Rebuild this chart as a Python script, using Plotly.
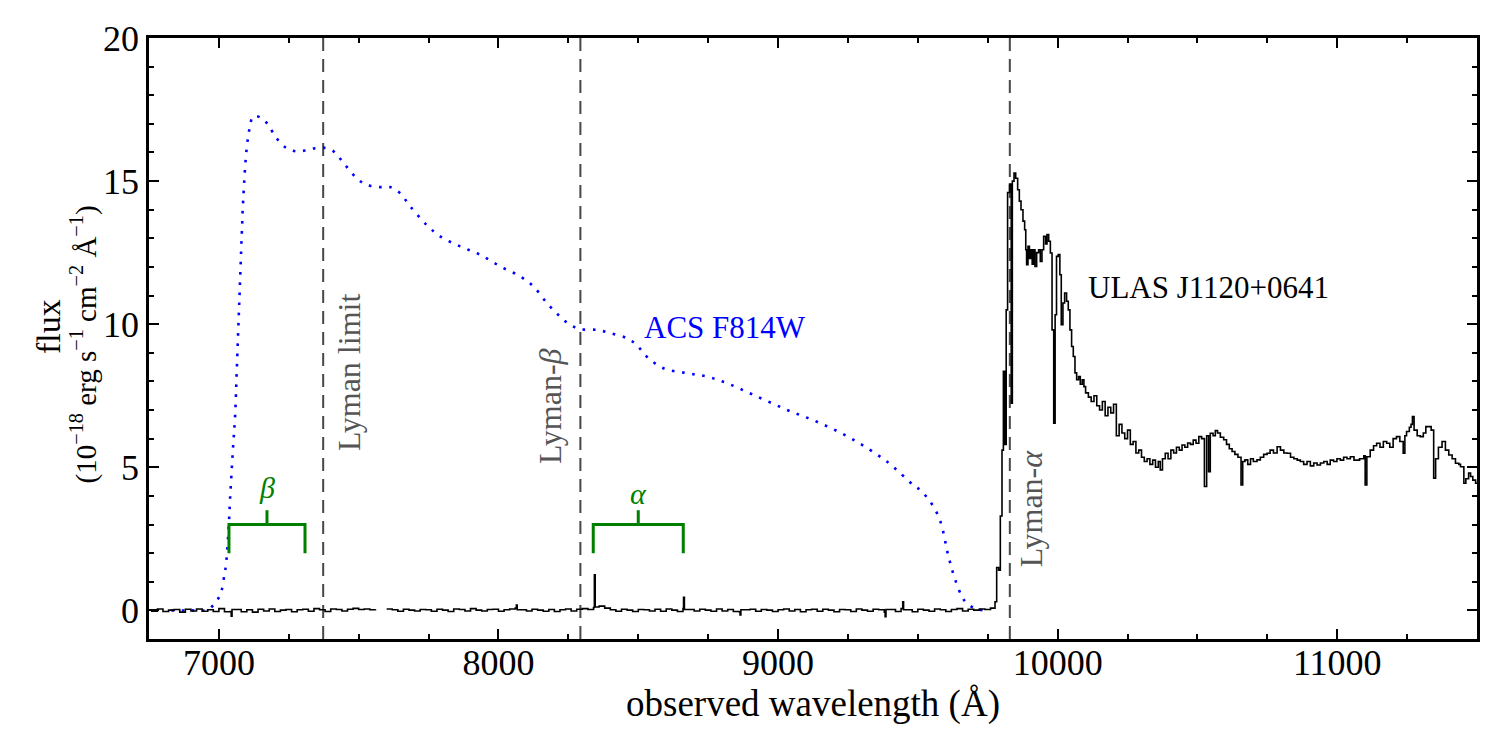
import numpy as np
import plotly.graph_objects as go

# ---------------- data ----------------
# ACS F814W throughput curve (scaled)
filter_wl = [6830, 6900, 6960, 6983, 6998, 7010, 7020, 7025, 7034, 7040, 7050, 7058, 7064,
             7073, 7082, 7087, 7099, 7111, 7123, 7153, 7176, 7206, 7242, 7278, 7314, 7344,
             7374, 7410, 7446, 7493, 7528, 7576, 7612, 7648, 7684, 7743, 7791, 7863, 7934,
             8006, 8077, 8125, 8173, 8220, 8256, 8292, 8352, 8399, 8459, 8494, 8530, 8590,
             8673, 8745, 8817, 8912, 9031, 9151, 9270, 9389, 9484, 9509, 9544, 9574, 9592,
             9604, 9616, 9634, 9658, 9675, 9705, 9735]
filter_flux = [0.0, 0.0, 0.02, 0.22, 0.42, 0.71, 1.27, 1.56, 2.75, 3.9, 5.6, 6.8, 8.4,
               10.8, 13.18, 14.35, 16.1, 16.9, 17.26, 17.2, 16.97, 16.5, 16.15, 16.04, 16.08, 16.15,
               16.17, 16.04, 15.63, 15.1, 14.87, 14.79, 14.79, 14.58, 14.12, 13.47, 13.07, 12.72, 12.43,
               12.02, 11.67, 11.32, 10.74, 10.27, 9.98, 9.83, 9.8, 9.69, 9.51, 9.28, 8.87, 8.46,
               8.29, 8.17, 7.94, 7.53, 7.01, 6.54, 5.96, 5.2, 4.38, 4.2, 3.8, 3.28, 2.7,
               2.11, 1.65, 1.06, 0.48, 0.25, 0.07, 0.0]

# Spectrum blueward of the break (20 A sampling starting at 6740 A)
blue_start, blue_step = 6740, 20
blue_flux = [
    0.02, -0.03, 0.05, -0.04, 0.01, 0.03, -0.06, 0.04, -0.02, 0.05,
    -0.03, 0.02, -0.04, 0.06, -0.05, -0.04, 0.03, -0.05, 0.02, -0.06,
    0.04, -0.02, 0.05, -0.04, 0.01, 0.03, -0.05, 0.02, 0.04, -0.03,
    0.06, 0.02, -0.04, 0.05, 0.03, -0.02, 0.04, 0.07, 0.03, 0.05,
    0.02, 0.04, None, 0.05, 0.02, -0.03, 0.04, 0.01, -0.02, 0.03,
    0.02, -0.03, 0.04, 0.01, -0.04, 0.05, 0.03, -0.02, 0.06, 0.01,
    -0.02, 0.03, 0.04, -0.03, 0.02, 0.05, 0.08, 0.02, -0.02, 0.04,
    0.01, -0.03, 0.03, -0.04, 0.02, 0.05, -0.02, 0.04, 0.06, 0.03,
    0.10, 0.15, 0.08, 0.02, -0.03, 0.04, 0.01, -0.04, 0.03, 0.02,
    -0.02, 0.04, -0.03, 0.05, 0.01, -0.04, 0.06, 0.03, -0.02, 0.04,
    0.01, -0.03, 0.05, -0.02, 0.03, -0.04, -0.05, 0.02, 0.04, -0.03,
    0.03, 0.01, -0.04, 0.02, 0.05, -0.02, 0.03, -0.05, 0.02, 0.04,
    -0.03, 0.04, 0.01, -0.05, 0.03, 0.02, -0.04, 0.05, 0.01, -0.03,
    0.04, 0.02, -0.06, 0.03, -0.04, 0.06, 0.02, -0.05, 0.04, 0.01,
    -0.03, 0.05, 0.02, -0.04, 0.03, 0.06, -0.02, 0.04, 0.01, 0.05,
    0.03, 0.08]

# Narrow spikes / dips on the blue side (wavelength, flux, back-to-continuum flux)
spike_wl = [7044, 8064, 8343, 8662, 8864, 9383, 9446]
spike_flux = [-0.2, 0.19, 1.24, 0.46, -0.16, -0.22, 0.30]
spike_after = [0.03, 0.02, 0.12, 0.03, 0.02, 0.03, 0.02]

# Spectrum redward of the break
red_wl = [9776, 9782, 9789, 9795, 9801, 9806, 9811, 9816, 9821, 9828, 9834, 9838, 9844, 9850,
          9857, 9863, 9869, 9876, 9882, 9886, 9889, 9894, 9899, 9904, 9909, 9914, 9919, 9925,
          9932, 9938, 9944, 9950, 9957, 9962, 9968, 9974, 9980, 9986, 9991, 9996, 10002, 10008,
          10013, 10019, 10025, 10032, 10038, 10044, 10050, 10056, 10062, 10068, 10075, 10081,
          10088, 10094, 10100, 10110, 10120, 10130, 10140, 10150, 10160, 10170, 10180, 10190,
          10200, 10210, 10220, 10230, 10240, 10250, 10260, 10270, 10280, 10290, 10300, 10310,
          10320, 10330, 10340, 10350, 10360, 10367, 10375, 10385, 10395, 10405, 10415, 10425,
          10435, 10445, 10455, 10465, 10475, 10485, 10495, 10505, 10515, 10525, 10533, 10540,
          10546, 10556, 10564, 10572, 10582, 10594, 10604, 10614, 10624, 10634, 10645, 10656,
          10662, 10670, 10680, 10690, 10700, 10713, 10725, 10737, 10749, 10760, 10772, 10785,
          10797, 10809, 10821, 10833, 10845, 10857, 10868, 10880, 10892, 10904, 10916, 10928,
          10940, 10952, 10964, 10975, 10987, 10999, 11011, 11023, 11035, 11047, 11060, 11080,
          11095, 11100, 11106, 11118, 11130, 11141, 11153, 11165, 11177, 11188, 11200, 11212,
          11224, 11236, 11242, 11248, 11258, 11264, 11269, 11275, 11286, 11297, 11308, 11317,
          11327, 11336, 11345, 11352, 11362, 11375, 11387, 11399, 11411, 11423, 11435, 11441,
          11453, 11460, 11470, 11477, 11485, 11495, 11505]
red_flux = [0.3, 1.5, 1.4, 3.3, 5.6, 8.35, 5.8, 10.5, 14.6, 14.9, 7.24, 15.0, 15.28, 15.1,
            14.7, 14.3, 14.0, 13.6, 13.3, 12.6, 12.08, 12.72, 12.3, 12.6, 12.1, 12.6, 12.02, 12.5,
            12.6, 12.19, 12.6, 13.07, 12.8, 13.13, 12.9, 12.49, 9.8, 6.54, 10.33, 12.37, 12.43, 11.73,
            9.98, 10.74, 11.09, 10.8, 10.5, 9.8, 9.22, 8.87, 8.3, 8.06, 8.17, 7.9,
            8.06, 7.82, 7.6, 7.45, 7.3, 7.5, 7.15, 7.0, 7.3, 6.8, 7.1, 6.9,
            7.2, 6.1, 6.5, 6.2, 6.0, 6.3, 5.8, 5.9, 5.5, 5.6, 5.35, 5.2,
            5.3, 5.1, 5.25, 5.0, 5.2, 4.91, 5.3, 5.49, 5.3, 5.6, 5.5, 5.7,
            5.6, 5.78, 5.7, 5.85, 5.8, 5.95, 5.84, 6.07, 6.0, 4.33, 6.1, 4.85,
            6.19, 6.1, 6.28, 6.2, 6.05, 5.96, 5.8, 5.65, 5.55, 5.45, 5.35, 4.38,
            5.2, 5.26, 5.1, 5.3, 5.2, 5.26, 5.35, 5.45, 5.49, 5.6, 5.5, 5.72,
            5.6, 5.5, 5.49, 5.35, 5.3, 5.25, 5.2, 5.1, 5.2, 5.05, 5.15, 5.08,
            5.15, 5.2, 5.1, 5.25, 5.2, 5.3, 5.25, 5.35, 5.3, 5.37, 5.25, 5.3,
            5.4, 4.38, 5.37, 5.6, 5.75, 5.84, 5.7, 5.9, 5.84, 5.7, 6.0, 6.07,
            5.9, 5.49, 6.1, 6.25, 6.4, 6.5, 6.77, 6.3, 6.1, 6.07, 6.2, 6.42,
            6.42, 6.3, 4.62, 5.3, 5.7, 5.9, 5.6, 5.43, 5.3, 5.14, 5.1, 5.02,
            4.44, 4.6, 4.8, 4.68, 4.55, 4.44, 4.6]

# Lyman series markers (observed wavelengths)
lyman_wl = [7373, 8293, 9829]
lyman_labels = ["Lyman limit", "Lyman-<i>β</i>", "Lyman-<i>α</i>"]
lyman_label_pos = [(7466, 8.3), (8185, 7.15), (9906, 3.58)]

# Forest windows (brackets)
bracket_lo = [7036, 8339]
bracket_hi = [7308, 8661]
bracket_labels = ["<i>β</i>", "<i>α</i>"]
bracket_levels = [2.0, 3.0, 3.5]   # foot, bar, centre tick top
bracket_label_y = [4.3, 4.1]

x_range = [6750, 11500]
y_range = [-1, 20]
x_ticks = [7000, 8000, 9000, 10000, 11000]
y_ticks = [0, 5, 10, 15, 20]

FONT = "Liberation Serif"
GREEN = "#008000"
GRAY = "#474747"

# ---------------- figure ----------------
blue_wl = [blue_start + blue_step * i for i in range(len(blue_flux))]
pts = list(zip(blue_wl, blue_flux))
for w, f, a in zip(spike_wl, spike_flux, spike_after):
    pts.append((w, f))
    pts.append((w + 3, a))
pts.sort(key=lambda p: p[0])
spec_wl = [p[0] for p in pts] + red_wl
spec_flux = [p[1] for p in pts] + red_flux

fig = go.Figure()

fig.add_trace(go.Scatter(x=filter_wl, y=filter_flux, mode="lines",
                         line=dict(color="#0000ff", width=2.6, dash="2.6px,7.6px", shape="spline"),
                         hoverinfo="skip", showlegend=False))

fig.add_trace(go.Scatter(x=spec_wl, y=spec_flux, mode="lines",
                         line=dict(color="black", width=1.6, shape="hv"),
                         connectgaps=False, hoverinfo="skip", showlegend=False))

for wl in lyman_wl:
    fig.add_shape(type="line", x0=wl, x1=wl, y0=0, y1=1, xref="x", yref="paper",
                  line=dict(color=GRAY, width=2, dash="13px,8px"), layer="below")

for lab, (lx, ly) in zip(lyman_labels, lyman_label_pos):
    fig.add_annotation(x=lx, y=ly, text=lab, textangle=-90, showarrow=False,
                       font=dict(family=FONT, size=32, color="#555555"),
                       xanchor="center", yanchor="middle")

for lo, hi, lab, ly in zip(bracket_lo, bracket_hi, bracket_labels, bracket_label_y):
    mid = 0.5 * (lo + hi)
    yf, yb, yt = bracket_levels
    fig.add_trace(go.Scatter(x=[lo, lo, hi, hi, None, mid, mid],
                             y=[yf, yb, yb, yf, None, yb, yt],
                             mode="lines", line=dict(color=GREEN, width=3),
                             hoverinfo="skip", showlegend=False))
    fig.add_annotation(x=mid, y=ly, text=lab, showarrow=False,
                       font=dict(family=FONT, size=30, color=GREEN),
                       xanchor="center", yanchor="middle")

fig.add_annotation(x=8811, y=9.87, text="ACS F814W", showarrow=False,
                   font=dict(family=FONT, size=31, color="#0000ff"),
                   xanchor="center", yanchor="middle")
fig.add_annotation(x=10539, y=11.28, text="ULAS J1120+0641", showarrow=False,
                   font=dict(family=FONT, size=31, color="black"),
                   xanchor="center", yanchor="middle")

# axis titles
fig.add_annotation(x=0.5, y=-0.108, xref="paper", yref="paper",
                   text="observed wavelength (Å)", showarrow=False,
                   font=dict(family=FONT, size=37, color="black"),
                   xanchor="center", yanchor="middle")
fig.add_annotation(x=-0.0757, y=0.52, xref="paper", yref="paper",
                   text="flux", showarrow=False, textangle=-90,
                   font=dict(family=FONT, size=34, color="black"),
                   xanchor="center", yanchor="middle")
fig.add_annotation(x=-0.049, y=0.49, xref="paper", yref="paper",
                   text="(10<sup>−18</sup> erg s<sup>−1</sup> cm<sup>−2</sup> Å<sup>−1</sup>)",
                   showarrow=False, textangle=-90,
                   font=dict(family=FONT, size=29, color="black"),
                   xanchor="center", yanchor="middle")

axis_common = dict(showgrid=False, zeroline=False, showline=True, linecolor="black",
                   linewidth=2.5, mirror="allticks", ticks="inside", ticklen=10,
                   tickwidth=2, tickcolor="black",
                   tickfont=dict(family=FONT, size=36, color="black"))

fig.update_xaxes(range=x_range, tickvals=x_ticks, ticktext=[str(v) for v in x_ticks],
                 ticklabelstandoff=-10,
                 minor=dict(ticks="inside", ticklen=5, tickwidth=2, dtick=250, tick0=7000,
                            tickcolor="black", showgrid=False),
                 **axis_common)
fig.update_yaxes(range=y_range, tickvals=y_ticks, ticktext=[str(v) for v in y_ticks],
                 ticklabelstandoff=0,
                 minor=dict(ticks="inside", ticklen=5, tickwidth=2, dtick=1, tick0=0,
                            tickcolor="black", showgrid=False),
                 **axis_common)

fig.update_layout(width=1500, height=750, margin=dict(l=149, r=23, t=38, b=111),
                  plot_bgcolor="white", paper_bgcolor="white", showlegend=False,
                  font=dict(family=FONT))

fig.write_html("out.html")
